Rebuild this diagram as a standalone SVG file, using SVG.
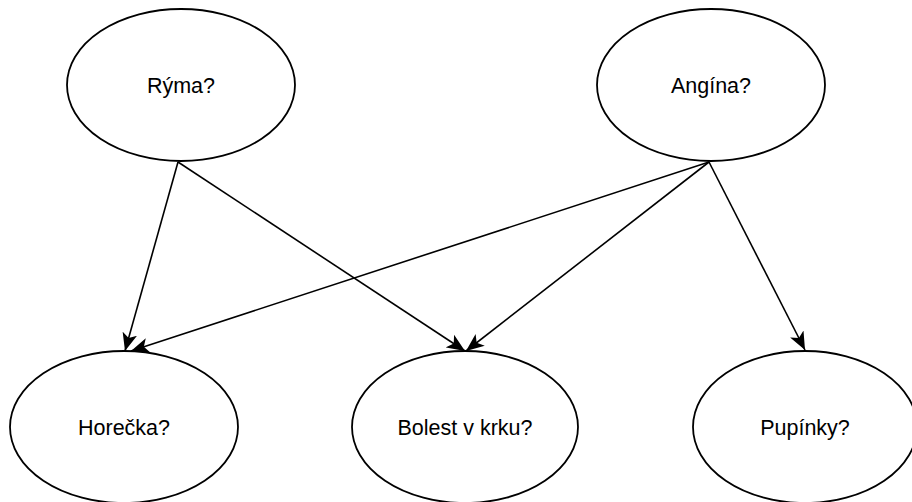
<svg xmlns="http://www.w3.org/2000/svg" width="912" height="502" viewBox="0 0 912 502">
  <style>
    .node ellipse { fill: #ffffff; stroke: #000000; stroke-width: 1.8; }
    .node text { font-family: "Liberation Sans", Arial, sans-serif; font-size: 21.5px; fill: #000000; text-anchor: middle; }
    .edge { fill: none; stroke: #000000; stroke-width: 1.6; marker-end: url(#arrow); }
  </style>
  <defs>
    <marker id="arrow" markerUnits="userSpaceOnUse" markerWidth="20" markerHeight="16" refX="18" refY="8" orient="auto">
      <path d="M18,8 L0,0.5 L4.5,8 L0,15.5 Z" fill="#000000"/>
    </marker>
  </defs>
  <rect width="912" height="502" fill="#ffffff"/>

  <g id="connectors">
    <line class="edge" x1="178" y1="162" x2="125" y2="351"/>
    <line class="edge" x1="178" y1="162" x2="465" y2="351"/>
    <line class="edge" x1="709" y1="162" x2="131" y2="351"/>
    <line class="edge" x1="709" y1="162" x2="466" y2="351"/>
    <line class="edge" x1="709" y1="162" x2="805" y2="350"/>
  </g>

  <g id="ryma" class="node">
    <ellipse cx="181" cy="85" rx="114" ry="76"/>
    <text x="181" y="93">Rýma?</text>
  </g>
  <g id="angina" class="node">
    <ellipse cx="711" cy="85" rx="114" ry="76"/>
    <text x="711" y="93">Angína?</text>
  </g>
  <g id="horecka" class="node">
    <ellipse cx="124" cy="427" rx="114" ry="76"/>
    <text x="124" y="435">Horečka?</text>
  </g>
  <g id="bolest" class="node">
    <ellipse cx="465" cy="427" rx="113" ry="76"/>
    <text x="465" y="435">Bolest v krku?</text>
  </g>
  <g id="pupinky" class="node">
    <ellipse cx="805" cy="427" rx="112" ry="76"/>
    <text x="805" y="435">Pupínky?</text>
  </g>
</svg>
